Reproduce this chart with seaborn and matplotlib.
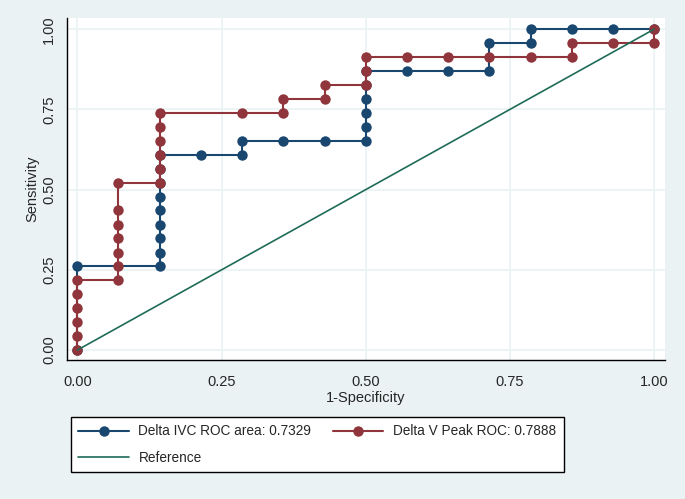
import numpy as np
import pandas as pd
import matplotlib
matplotlib.use('Agg')
import matplotlib.pyplot as plt
import seaborn as sns
from matplotlib.lines import Line2D

# ROC points (1-specificity, sensitivity)
ivc_fpr = [0.000, 0.000, 0.143, 0.143, 0.143, 0.143, 0.143, 0.143, 0.143, 0.143, 0.143,
           0.214, 0.286, 0.286, 0.357, 0.429, 0.500, 0.500, 0.500, 0.500, 0.500, 0.500,
           0.571, 0.643, 0.714, 0.714, 0.786, 0.786, 0.857, 0.929, 1.000]
ivc_tpr = [0.000, 0.261, 0.261, 0.304, 0.348, 0.391, 0.435, 0.478, 0.522, 0.565, 0.609,
           0.609, 0.609, 0.652, 0.652, 0.652, 0.652, 0.696, 0.739, 0.783, 0.826, 0.870,
           0.870, 0.870, 0.870, 0.957, 0.957, 1.000, 1.000, 1.000, 1.000]

vpk_fpr = [0.000, 0.000, 0.000, 0.000, 0.000, 0.000,
           0.071, 0.071, 0.071, 0.071, 0.071, 0.071, 0.071,
           0.143, 0.143, 0.143, 0.143, 0.143, 0.143,
           0.286, 0.357, 0.357, 0.429, 0.429, 0.500, 0.500, 0.500,
           0.571, 0.643, 0.714, 0.786, 0.857, 0.857, 0.929, 1.000, 1.000]
vpk_tpr = [0.000, 0.043, 0.087, 0.130, 0.174, 0.217,
           0.217, 0.261, 0.304, 0.348, 0.391, 0.435, 0.522,
           0.522, 0.565, 0.609, 0.652, 0.696, 0.739,
           0.739, 0.739, 0.783, 0.783, 0.826, 0.826, 0.870, 0.913,
           0.913, 0.913, 0.913, 0.913, 0.913, 0.957, 0.957, 0.957, 1.000]

ref_x = [0.0, 1.0]
ref_y = [0.0, 1.0]

labels = ["Delta IVC ROC area: 0.7329", "Delta V Peak ROC: 0.7888", "Reference"]
ticks = [0.0, 0.25, 0.5, 0.75, 1.0]

navy = '#1A476F'
maroon = '#90353B'
teal = '#1F6B58'
bg = '#EAF2F3'

sns.set_style("white")
plt.rcParams['font.family'] = ['Liberation Sans', 'DejaVu Sans']

fig = plt.figure(figsize=(6.85, 4.99), dpi=100, facecolor=bg)
ax = fig.add_axes([67 / 685, 1 - 360 / 499, (665 - 67) / 685, (360 - 18) / 499])
ax.set_facecolor('white')

df_ivc = pd.DataFrame({'x': ivc_fpr, 'y': ivc_tpr})
df_vpk = pd.DataFrame({'x': vpk_fpr, 'y': vpk_tpr})

sns.lineplot(data=df_ivc, x='x', y='y', sort=False, estimator=None, ax=ax,
             color=navy, lw=1.5, marker='o', markersize=7.5, markeredgewidth=0, zorder=3)
sns.lineplot(data=df_vpk, x='x', y='y', sort=False, estimator=None, ax=ax,
             color=maroon, lw=1.5, marker='o', markersize=7.5, markeredgewidth=0, zorder=4)
sns.lineplot(x=ref_x, y=ref_y, ax=ax, color=teal, lw=1.2, zorder=5)

ax.set_xlim(-0.018, 1.019)
ax.set_ylim(-0.031, 1.035)
ax.set_xticks(ticks)
ax.set_yticks(ticks)
ax.set_xticklabels([f"{t:.2f}" for t in ticks], fontsize=10.5)
ax.set_yticklabels([f"{t:.2f}" for t in ticks], fontsize=10.5, rotation=90, va='center')
ax.grid(True, color=bg, lw=1.2)
ax.set_axisbelow(True)
for s in ['top', 'right']:
    ax.spines[s].set_visible(False)
for s in ['left', 'bottom']:
    ax.spines[s].set_color('black')
    ax.spines[s].set_linewidth(1.0)
ax.tick_params(axis='x', direction='out', length=5, width=1, color='black', pad=6)
ax.tick_params(axis='y', direction='out', length=5, width=1, color='black', pad=3)
ax.set_xlabel("1-Specificity", fontsize=10.5, labelpad=1)
ax.set_ylabel("Sensitivity", fontsize=10.5, labelpad=2)

handles = [
    Line2D([], [], color=navy, lw=1.5, marker='o', markersize=7.5, markeredgewidth=0),
    Line2D([], [], color=maroon, lw=1.5, marker='o', markersize=7.5, markeredgewidth=0),
    Line2D([], [], color=teal, lw=1.2),
]
leg = fig.legend(handles=[handles[0], handles[2], handles[1]],
                 labels=[labels[0], labels[2], labels[1]],
                 ncol=2, loc='upper left', bbox_to_anchor=(71 / 685, 1 - 417 / 499),
                 borderaxespad=0, frameon=True, fancybox=False, framealpha=1,
                 facecolor='white', fontsize=9.8, handlelength=3.7,
                 columnspacing=1.6, borderpad=0.55, labelspacing=0.9, handletextpad=0.7)
leg.get_frame().set_edgecolor('black')
leg.get_frame().set_linewidth(1.0)

fig.savefig('out.png', dpi=100, facecolor=bg)
